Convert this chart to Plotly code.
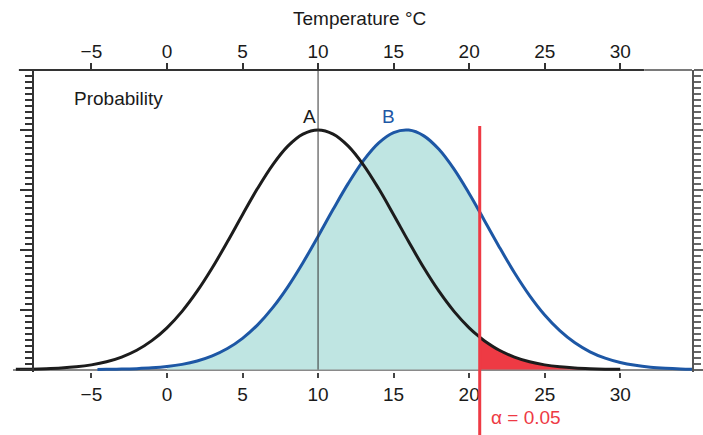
import plotly.graph_objects as go

# ---------------- data ----------------
x_a = [-10, -9, -8, -7, -6, -5, -4, -3, -2, -1, 0, 1, 2, 3, 4, 5, 6, 7, 8, 9, 10,
       11, 12, 13, 14, 15, 16, 17, 18, 19, 20, 20.7, 21, 22, 23, 24, 25, 26, 27, 28, 29, 30]
y_a = [0.004, 0.007, 0.014, 0.026, 0.046, 0.079, 0.130, 0.209, 0.323, 0.483, 0.697,
       0.972, 1.308, 1.699, 2.133, 2.585, 3.025, 3.418, 3.730, 3.931, 4.000,
       3.931, 3.730, 3.418, 3.025, 2.585, 2.133, 1.699, 1.308, 0.972, 0.697, 0.541,
       0.483, 0.323, 0.209, 0.130, 0.079, 0.046, 0.026, 0.014, 0.007, 0.004]

x_b = [-4.6, -4, -3, -2, -1, 0, 1, 2, 3, 4, 5, 6, 7, 8, 9, 10, 11, 12, 13, 14, 15,
       16, 17, 18, 19, 20, 20.7, 21, 22, 23, 24, 25, 26, 27, 28, 29, 30, 31, 32, 33, 34, 35]
y_b = [0.003, 0.004, 0.008, 0.016, 0.029, 0.051, 0.087, 0.144, 0.229, 0.351, 0.521,
       0.747, 1.034, 1.382, 1.784, 2.223, 2.675, 3.108, 3.488, 3.780, 3.956,
       3.997, 3.901, 3.676, 3.345, 2.939, 2.630, 2.494, 2.044, 1.617, 1.236, 0.912,
       0.650, 0.447, 0.297, 0.191, 0.118, 0.071, 0.041, 0.023, 0.012, 0.006]

mean_a = 10
threshold = 20.7          # alpha = 0.05 critical value
fill_start = 0
tick_vals = [-5, 0, 5, 10, 15, 20, 25, 30]
tick_text = ["\u22125", "0", "5", "10", "15", "20", "25", "30"]
labels = {"title": "Temperature \u00b0C", "ylab": "Probability",
          "A": "A", "B": "B", "alpha": "\u03b1 = 0.05"}

# ---------------- styling ----------------
XMIN, XMAX = -10.19, 34.75
YMIN, YMAX = -0.04, 5.0
FONT = "Liberation Sans, Arial, sans-serif"
BLACK = "#1c1c1c"
BLUE = "#1d57a5"
TEAL = "#bfe5e2"
RED = "#ee3a44"

fig = go.Figure()

# teal fill under B up to the threshold
fx = [x for x in x_b if fill_start <= x <= threshold]
fy = [y for x, y in zip(x_b, y_b) if fill_start <= x <= threshold]
fig.add_trace(go.Scatter(x=fx, y=fy, mode="lines", fill="tozeroy",
                         fillcolor=TEAL, line=dict(width=0, shape="spline"),
                         hoverinfo="skip"))
# red fill under A beyond the threshold
rx = [x for x in x_a if x >= threshold]
ry = [y for x, y in zip(x_a, y_a) if x >= threshold]
fig.add_trace(go.Scatter(x=rx, y=ry, mode="lines", fill="tozeroy",
                         fillcolor=RED, line=dict(width=0, shape="spline"),
                         hoverinfo="skip"))
# curves
fig.add_trace(go.Scatter(x=x_b, y=y_b, mode="lines",
                         line=dict(color=BLUE, width=3, shape="spline")))
fig.add_trace(go.Scatter(x=x_a, y=y_a, mode="lines",
                         line=dict(color=BLACK, width=3, shape="spline")))
# empty trace to create the top/right axes
fig.add_trace(go.Scatter(x=[], y=[], xaxis="x2", yaxis="y2", hoverinfo="skip"))

xpaper_thr = (threshold - XMIN) / (XMAX - XMIN)

shapes = [
    # vertical line at the mean of A
    dict(type="line", xref="x", yref="y", x0=mean_a, x1=mean_a, y0=0, y1=YMAX,
         line=dict(color="#333333", width=1)),
    # top axis line (dark part and grey continuation)
    dict(type="line", xref="x", yref="paper", x0=-9.8, x1=31.6, y0=1, y1=1,
         line=dict(color="#333333", width=2)),
    dict(type="line", xref="x", yref="paper", x0=31.6, x1=XMAX, y0=1, y1=1,
         line=dict(color="#7a7a7a", width=2)),
    # alpha threshold line
    dict(type="line", xref="paper", yref="paper", x0=xpaper_thr, x1=xpaper_thr,
         y0=0.8146, y1=-0.2086, line=dict(color=RED, width=3)),
]

annotations = [
    dict(text=labels["title"], xref="paper", yref="paper", x=0.511, y=1.172,
         xanchor="center", yanchor="middle",
         showarrow=False, font=dict(size=19, color="#1a1a1a", family=FONT)),
    dict(text=labels["ylab"], xref="paper", yref="paper", x=0.087, y=0.907,
         xanchor="left", yanchor="middle",
         showarrow=False, font=dict(size=19, color="#1a1a1a", family=FONT)),
    dict(text=labels["A"], xref="x", yref="y", x=9.46, y=4.22, showarrow=False,
         xanchor="center", yanchor="middle",
         font=dict(size=19, color="#1a1a1a", family=FONT)),
    dict(text=labels["B"], xref="x", yref="y", x=14.69, y=4.22, showarrow=False,
         xanchor="center", yanchor="middle",
         font=dict(size=19, color=BLUE, family=FONT)),
    dict(text=labels["alpha"], xref="x", yref="paper", x=23.76, y=-0.150,
         xanchor="center", yanchor="middle",
         showarrow=False, font=dict(size=19, color=RED, family=FONT)),
]

yaxis_common = dict(range=[YMIN, YMAX], dtick=1, tick0=0, showgrid=False,
                    showticklabels=False, showline=True, ticks="outside")

fig.update_layout(
    width=703, height=435,
    margin=dict(l=13, r=11, t=70, b=63, autoexpand=False),
    paper_bgcolor="white", plot_bgcolor="white",
    showlegend=False,
    font=dict(family=FONT, size=19, color="#1a1a1a"),
    xaxis=dict(range=[XMIN, XMAX], tickvals=tick_vals, ticktext=tick_text,
               showgrid=False, zeroline=False, showline=False, ticks="outside",
               ticklen=5, tickwidth=1.5, tickcolor="#444444",
               ticklabelstandoff=0,
               tickfont=dict(size=19, family=FONT, color="#1a1a1a")),
    xaxis2=dict(range=[XMIN, XMAX], overlaying="x", side="top", anchor="y",
                tickvals=tick_vals, ticktext=tick_text, showgrid=False,
                zeroline=False, showline=False, ticks="outside", ticklen=6,
                tickwidth=1.5, tickcolor="#333333", ticklabelstandoff=-3,
                tickfont=dict(size=19, family=FONT, color="#1a1a1a")),
    yaxis=dict(**yaxis_common, anchor="free", position=(33 - 13) / 679,
               side="left", linecolor="#333333", linewidth=2,
               ticklen=12, tickwidth=1.5, tickcolor="#333333",
               zeroline=True, zerolinecolor="#8a8a8a", zerolinewidth=2,
               minor=dict(dtick=0.1, ticks="outside", ticklen=7, tickwidth=1.5,
                          tickcolor="#333333", showgrid=False)),
    yaxis2=dict(**yaxis_common, overlaying="y", side="right", anchor="x2",
                linecolor="#555555", linewidth=2, zeroline=False,
                ticklen=10, tickwidth=2, tickcolor="#666666",
                minor=dict(dtick=0.1, ticks="outside", ticklen=7, tickwidth=2,
                           tickcolor="#666666", showgrid=False)),
    shapes=shapes,
    annotations=annotations,
)

fig.write_html("out.html",
               config={"displayModeBar": False},
               post_script="document.body.style.margin='0px';"
                           "document.body.style.overflow='hidden';")
